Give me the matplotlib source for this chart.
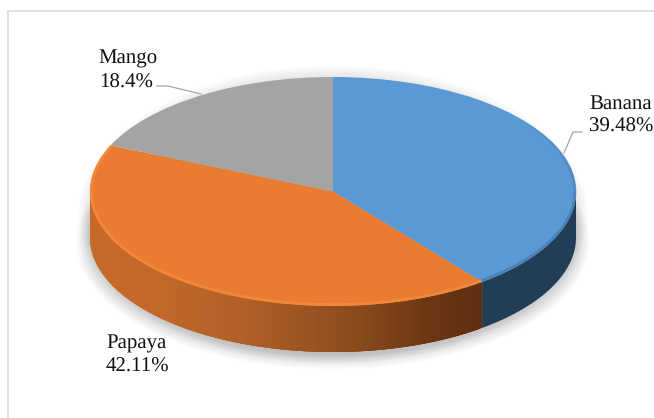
import numpy as np
import matplotlib
matplotlib.use("Agg")
import matplotlib.pyplot as plt
from matplotlib.colors import to_rgb
from matplotlib.lines import Line2D
from matplotlib.patches import Ellipse

labels = ["Banana", "Papaya", "Mango"]
values = [39.48, 42.11, 18.4]
value_text = ["39.48%", "42.11%", "18.4%"]
colors = ["#5a99d4", "#e97c30", "#a4a4a4"]

W, H = 654, 418
CX, CY, RX, RY = 333, 191.5, 243, 114.5
DEPTH = 46 / RY

plt.rcParams["font.family"] = ["Liberation Serif", "DejaVu Serif"]
plt.rcParams["text.hinting"] = "no_hinting"

fig = plt.figure(figsize=(W / 100, H / 100), dpi=100)
ax = fig.add_axes([(CX - RX) / W, 1 - (CY + RY) / H, 2 * RX / W, 2 * RY / H])


def px(x, y):
    return x / W, 1 - y / H


# chart frame
fig.add_artist(Line2D(*zip(px(7.5, 418), px(7.5, 10.5)), color="#e0e0e0", lw=1.4))
fig.add_artist(Line2D(*zip(px(7.5, 10.5), px(654, 10.5)), color="#e0e0e0", lw=1.4))

# soft shadow under the pie
for i in range(14):
    grow = 14 - i
    ax.add_patch(Ellipse((0, -DEPTH - 0.03), 2 + 2 * grow / RX, 2 + 2 * grow / RY,
                         fc="black", ec="none", alpha=0.012, zorder=1, clip_on=False))
for i in range(12):
    grow = 12 - i
    ax.add_patch(Ellipse((0, -DEPTH / 2), 2 + 2 * grow / RX, 2 + DEPTH + 2 * grow / RY,
                         fc="black", ec="none", alpha=0.008, zorder=1, clip_on=False))

# side wall
shares = np.array(values) / sum(values) * 360
ends = np.cumsum(shares)

wall_x = [-1.0, -0.75, -0.35, 0.1, 0.4, 0.62]
wall_c = np.array([to_rgb(c) for c in
                   ["#c66a2b", "#c3692b", "#b05f27", "#8a4a1c", "#6c3613", "#5f2f10"]])

t = np.radians(np.linspace(90, ends[0], 80))
ax.fill(np.r_[np.sin(t), np.sin(t[::-1])], np.r_[np.cos(t), np.cos(t[::-1]) - DEPTH],
        color="#213e56", lw=0, zorder=2, clip_on=False)

# papaya wall, drawn right to left so each strip overlaps the last seam
t = np.radians(np.arange(ends[0], 270, 0.5))
t = np.r_[t, np.radians(270)]
for t0, t1 in zip(t[:-1], t[1:]):
    t2 = min(t1 + np.radians(1), np.radians(270))
    xs = [np.sin(t0), np.sin(t2), np.sin(t2), np.sin(t0)]
    ys = [np.cos(t0), np.cos(t2), np.cos(t2) - DEPTH, np.cos(t0) - DEPTH]
    c = [np.interp(np.sin(t0), wall_x, wall_c[:, k]) for k in range(3)]
    ax.fill(xs, ys, color=c, lw=0, zorder=2, clip_on=False)

# top face
ax.pie(values, colors=colors, startangle=90, counterclock=False, radius=1,
       wedgeprops={"linewidth": 0, "zorder": 3})
for w in ax.patches:
    w.set_clip_on(False)
ax.set_aspect("auto")
ax.set_xlim(-1, 1)
ax.set_ylim(-1, 1)
ax.axis("off")

# bevel along the rim: the blue darkens in gradually, the orange is a light edge
t = np.radians(np.linspace(50, ends[0], 60))
for k in range(len(t) - 1):
    fade = min(1.0, k / 30)
    ax.plot(np.sin(t[k:k + 2]) * 0.996, np.cos(t[k:k + 2]) * 0.985, color="#3d6f9e",
            lw=2.0, alpha=0.55 * fade, zorder=4, clip_on=False, solid_capstyle="butt")
t = np.radians(np.linspace(ends[0], ends[1], 160))
ax.plot(np.sin(t) * 0.995, np.cos(t) * 0.988, color="#f88d3c", lw=2.0, alpha=0.7,
        zorder=4, clip_on=False, solid_capstyle="butt")

# leader lines, in pixels
leader_x = [[582, 573, 564], [157, 168, 201]]
leader_y = [[132, 132, 153], [86, 86, 94]]
for lx, ly in zip(leader_x, leader_y):
    p = [px(a, b) for a, b in zip(lx, ly)]
    fig.add_artist(Line2D(*zip(*p), color="#a6a6a6", lw=0.9))

# labels
name_pos = [(621, 104), (137, 343), (128, 58)]
value_pos = [(621, 127), (137, 367), (126, 83)]
for name, val, np_, vp in zip(labels, value_text, name_pos, value_pos):
    fig.text(*px(*np_), name, ha="center", va="center", fontsize=15, color="#111111")
    fig.text(*px(*vp), val, ha="center", va="center", fontsize=15, color="#111111")

fig.savefig("out.png", dpi=100)
